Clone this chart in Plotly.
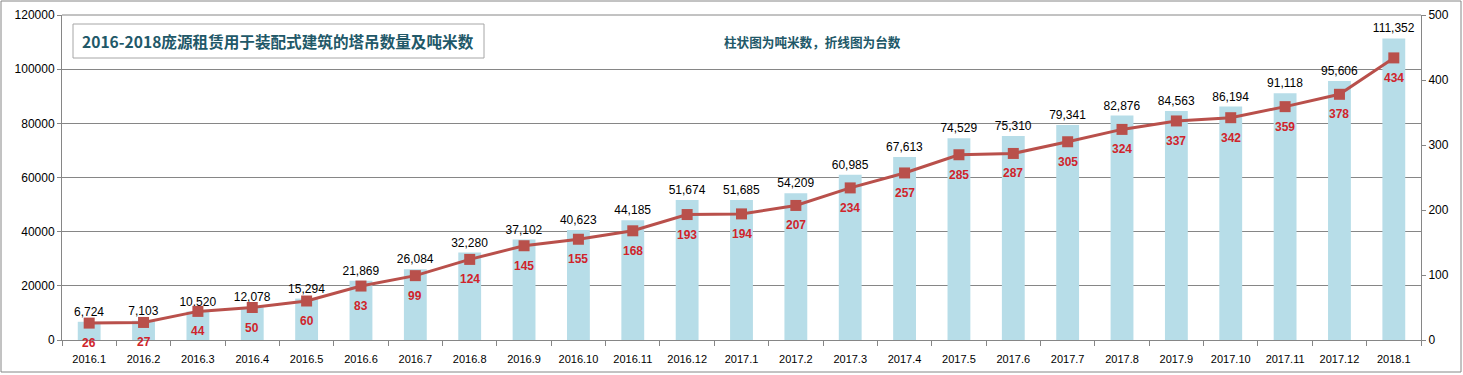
import plotly.graph_objects as go

categories = ["2016.1","2016.2","2016.3","2016.4","2016.5","2016.6","2016.7","2016.8","2016.9","2016.10",
              "2016.11","2016.12","2017.1","2017.2","2017.3","2017.4","2017.5","2017.6","2017.7","2017.8",
              "2017.9","2017.10","2017.11","2017.12","2018.1"]
ton_meters = [6724,7103,10520,12078,15294,21869,26084,32280,37102,40623,44185,51674,51685,54209,60985,
              67613,74529,75310,79341,82876,84563,86194,91118,95606,111352]
crane_counts = [26,27,44,50,60,83,99,124,145,155,168,193,194,207,234,257,285,287,305,324,337,342,359,378,434]

title_text = "2016-2018庞源租赁用于装配式建筑的塔吊数量及吨米数"
note_text = "柱状图为吨米数，折线图为台数"

W, H = 1463, 375
L, R, T, B = 62, 42, 15, 35
pw, ph = W - L - R, H - T - B

def px(x):
    return (x - L) / pw

def py(y):
    return (H - B - y) / ph

font_main = "Liberation Sans, Arial, sans-serif"
cjk = "Noto Sans CJK SC"
red_text = "#D0242B"

fig = go.Figure()
fig.add_trace(go.Bar(
    x=categories, y=ton_meters, name="吨米数",
    marker=dict(color="#B7DDE8", line=dict(width=0)),
    width=0.42,
    texttemplate="%{y:,}", textposition="outside", constraintext="none",
    textfont=dict(color="#000000", size=12, family=font_main),
    cliponaxis=False,
))
fig.add_trace(go.Scatter(
    x=categories, y=crane_counts, name="台数", yaxis="y2",
    mode="lines+markers",
    line=dict(color="#B9504B", width=3),
    marker=dict(symbol="square", size=11, color="#B9504B"),
    cliponaxis=False,
))

annotations = [
    dict(text="<b>" + title_text + "</b>", xref="paper", yref="paper",
         x=px(278), y=py(41), showarrow=False, xanchor="center", yanchor="middle",
         font=dict(family=cjk, size=15.6, color="#215868")),
    dict(text="<b>" + note_text + "</b>", xref="paper", yref="paper",
         x=px(812), y=py(42), showarrow=False, xanchor="center", yanchor="middle",
         font=dict(family=cjk, size=12.6, color="#215868")),
]
for i, v in enumerate(crane_counts):
    annotations.append(dict(
        text="<b>" + str(v) + "</b>", x=i, y=v, xref="x", yref="y2",
        showarrow=False, xanchor="center", yanchor="middle", yshift=-20,
        font=dict(family=font_main, size=12, color=red_text),
    ))

fig.update_layout(
    width=W, height=H,
    margin=dict(l=L, r=R, t=T, b=B),
    plot_bgcolor="white", paper_bgcolor="white",
    showlegend=False, bargap=0.58,
    font=dict(family=font_main, size=11, color="#000000"),
    xaxis=dict(
        type="category", range=[-0.5, len(categories) - 0.5], autorange=False,
        showgrid=False, showline=True, linecolor="#868686", linewidth=1,
        ticks="outside", ticklen=5, tickcolor="#868686", tickson="boundaries",
        ticklabelstandoff=9,
        tickfont=dict(size=11, color="#000000"), automargin=False,
    ),
    yaxis=dict(
        range=[0, 120000], dtick=20000, tickformat="d", autorange=False,
        showgrid=True, gridcolor="#868686", gridwidth=1,
        showline=True, linecolor="#868686", linewidth=1,
        ticks="outside", ticklen=4, tickcolor="#868686",
        tickfont=dict(size=12, color="#000000"), zeroline=False, automargin=False,
    ),
    yaxis2=dict(
        range=[0, 500], dtick=100, overlaying="y", side="right", autorange=False,
        showgrid=False, showline=True, linecolor="#868686", linewidth=1,
        ticks="outside", ticklen=4, tickcolor="#868686",
        tickfont=dict(size=12, color="#000000"), zeroline=False, automargin=False,
    ),
    shapes=[
        dict(type="line", xref="paper", yref="paper", x0=0, x1=1, y0=1, y1=1,
             line=dict(color="#868686", width=1)),
        dict(type="rect", xref="paper", yref="paper",
             x0=px(73), x1=px(484), y0=py(58), y1=py(24),
             line=dict(color="#A6A6A6", width=1), fillcolor="white", layer="above"),
        dict(type="rect", xref="paper", yref="paper",
             x0=px(1), x1=px(1461), y0=py(372), y1=py(1),
             line=dict(color="#868686", width=1), layer="below"),
    ],
    annotations=annotations,
)

fig.write_html(
    "out.html",
    config={"displayModeBar": False},
    post_script="document.body.style.margin='0';document.body.style.overflow='hidden';",
)
